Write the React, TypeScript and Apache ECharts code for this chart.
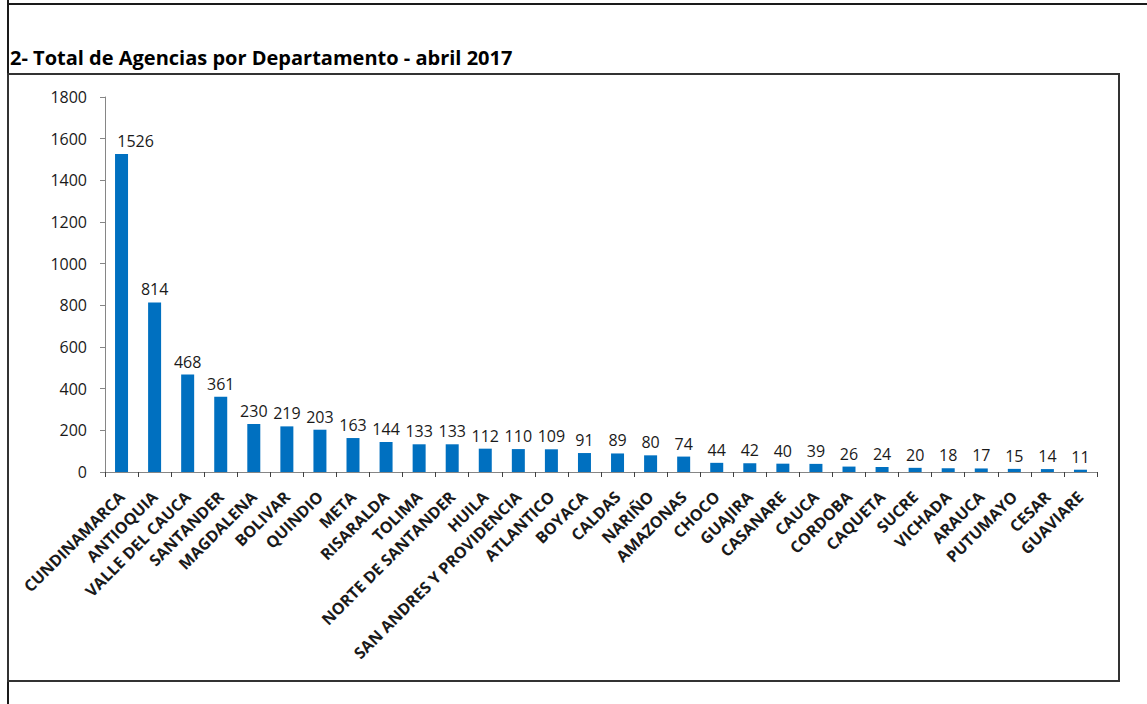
import React, { useEffect, useRef } from "react";
import * as echarts from "echarts";

const categories = [
  "CUNDINAMARCA", "ANTIOQUIA", "VALLE DEL CAUCA", "SANTANDER", "MAGDALENA", "BOLIVAR",
  "QUINDIO", "META", "RISARALDA", "TOLIMA", "NORTE DE SANTANDER", "HUILA",
  "SAN ANDRES Y PROVIDENCIA", "ATLANTICO", "BOYACA", "CALDAS", "NARIÑO", "AMAZONAS",
  "CHOCO", "GUAJIRA", "CASANARE", "CAUCA", "CORDOBA", "CAQUETA", "SUCRE", "VICHADA",
  "ARAUCA", "PUTUMAYO", "CESAR", "GUAVIARE",
];
const agencias = [
  1526, 814, 468, 361, 230, 219, 203, 163, 144, 133, 133, 112, 110, 109, 91, 89, 80, 74,
  44, 42, 40, 39, 26, 24, 20, 18, 17, 15, 14, 11,
];
const titleText = "2- Total de Agencias por Departamento - abril 2017";
const yMax = 1800;
const yStep = 200;

const FONT = "'Open Sans', Lato, sans-serif";

export default function App() {
  const ref = useRef<HTMLDivElement>(null);
  useEffect(() => {
    if (!ref.current) return;
    const chart = echarts.init(ref.current, undefined, { renderer: "svg" });
    chart.setOption({
      animation: false,
      backgroundColor: "#ffffff",
      textStyle: { fontFamily: FONT },
      grid: { left: 105, right: 50, top: 97, bottom: 232, containLabel: false },
      graphic: [
        { type: "line", shape: { x1: 8, y1: 0, x2: 8, y2: 704 }, style: { stroke: "#1a1a1a", lineWidth: 2 } },
        { type: "line", shape: { x1: 8, y1: 4, x2: 1147, y2: 4 }, style: { stroke: "#1a1a1a", lineWidth: 2 } },
        { type: "rect", shape: { x: 8, y: 74, width: 1111, height: 607 }, style: { fill: "none", stroke: "#333333", lineWidth: 2 } },
        {
          type: "text", left: 10, top: 47,
          style: { text: titleText, font: `bold 20px ${FONT}`, fill: "#000000" },
        },
      ],
      xAxis: {
        type: "category",
        data: categories,
        axisLine: { lineStyle: { color: "#868686", width: 1 } },
        axisTick: { show: true, length: 5, alignWithLabel: false, lineStyle: { color: "#404040" } },
        axisLabel: {
          interval: 0, rotate: 45, margin: 22,
          fontFamily: FONT, fontSize: 16, fontWeight: "bold", color: "#1a1a1a",
        },
      },
      yAxis: {
        type: "value",
        min: 0, max: yMax, interval: yStep,
        splitLine: { show: false },
        axisLine: { show: true, lineStyle: { color: "#868686" } },
        axisTick: { show: true, length: 5, lineStyle: { color: "#868686" } },
        axisLabel: {
          fontFamily: FONT, fontSize: 16, color: "#1a1a1a", margin: 18,
          formatter: (v: number) => String(v),
        },
      },
      series: [
        {
          type: "bar",
          data: agencias.map((v, i) => (i === 0 ? { value: v, label: { offset: [14, 0] } } : v)),
          barWidth: 13,
          itemStyle: { color: "#0070c0" },
          label: {
            show: true, position: "top", distance: 5,
            fontFamily: FONT, fontSize: 16, color: "#1a1a1a",
          },
        },
      ],
    });
    return () => chart.dispose();
  }, []);
  return (
    <div
      ref={ref}
      style={{ position: "fixed", left: 0, top: 0, width: 1147, height: 704, background: "#fff" }}
    />
  );
}
